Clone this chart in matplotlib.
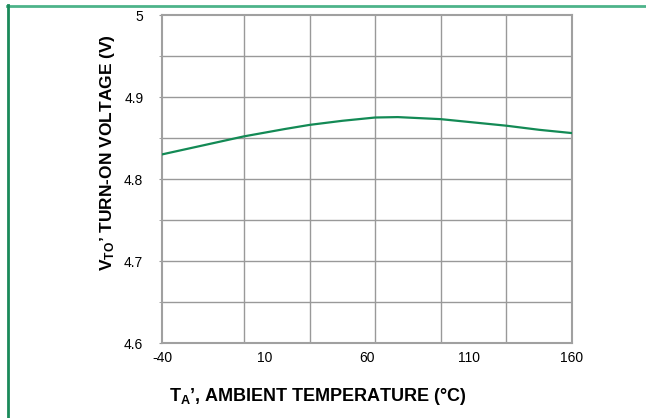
import matplotlib
matplotlib.use("Agg")
import matplotlib.pyplot as plt
from matplotlib.lines import Line2D

plt.rcParams["font.family"] = "Liberation Sans"
plt.rcParams["mathtext.fontset"] = "custom"
plt.rcParams["mathtext.rm"] = "Liberation Sans"
plt.rcParams["mathtext.bf"] = "Liberation Sans:bold"

# Data
temp = [-40, -20, 0, 20, 32, 48, 64, 75, 96, 112, 128, 144, 160]
vto = [4.830, 4.841, 4.852, 4.861, 4.866, 4.871, 4.875, 4.8755, 4.873, 4.869, 4.865, 4.860, 4.856]

x_ticks = [-40, 10, 60, 110, 160]
x_tick_labels = ["-40", "10", "60", "110", "160"]
x_grid = [0, 32, 64, 96, 128]
y_ticks = [4.6, 4.7, 4.8, 4.9, 5.0]
y_tick_labels = ["4.6", "4.7", "4.8", "4.9", "5"]
y_grid = [4.65, 4.7, 4.75, 4.8, 4.85, 4.9, 4.95]

fig = plt.figure(figsize=(6.46, 4.18), dpi=100)
ax = fig.add_axes([0.2508, 0.1794, 0.6346, 0.7847])

# Grid
for gx in x_grid:
    ax.axvline(gx, color="#999999", lw=1, zorder=1)
for gy in y_grid:
    ax.axhline(gy, color="#999999", lw=1, zorder=1)

ax.plot(temp, vto, color="#138a55", lw=1.6, zorder=3)

ax.set_xlim(-40, 160)
ax.set_ylim(4.6, 5.0)
ax.set_xticks(x_ticks)
ax.set_xticklabels(x_tick_labels)
ax.set_yticks(y_ticks)
ax.set_yticklabels(y_tick_labels)
ax.set_yticks(y_grid, minor=True)
ax.tick_params(axis="x", length=0, pad=6, labelsize=10)
ax.tick_params(axis="y", which="both", length=2.5, color="#999999", pad=11, labelsize=10)

for s in ax.spines.values():
    s.set_color("#a0a0a0")
    s.set_linewidth(1.5)

fig.text(0.262, 0.052, "$\\mathbf{T_A}$’, AMBIENT TEMPERATURE (°C)",
         fontsize=13, fontweight="bold", ha="left", va="center")
fig.text(0.166, 0.636, "$\\mathbf{V_{TO}}$’ TURN-ON VOLTAGE (V)",
         fontsize=12.5, fontweight="bold", ha="center", va="center", rotation=90)

# Green frame around the figure
fig.add_artist(Line2D([7 / 646, 1.0], [1 - 5.5 / 418, 1 - 5.5 / 418],
                      transform=fig.transFigure, color="#4db38a", lw=2))
fig.add_artist(Line2D([7.5 / 646, 7.5 / 646], [0, 1 - 5 / 418],
                      transform=fig.transFigure, color="#1a8a5a", lw=2))

fig.savefig("out.png", dpi=100)
